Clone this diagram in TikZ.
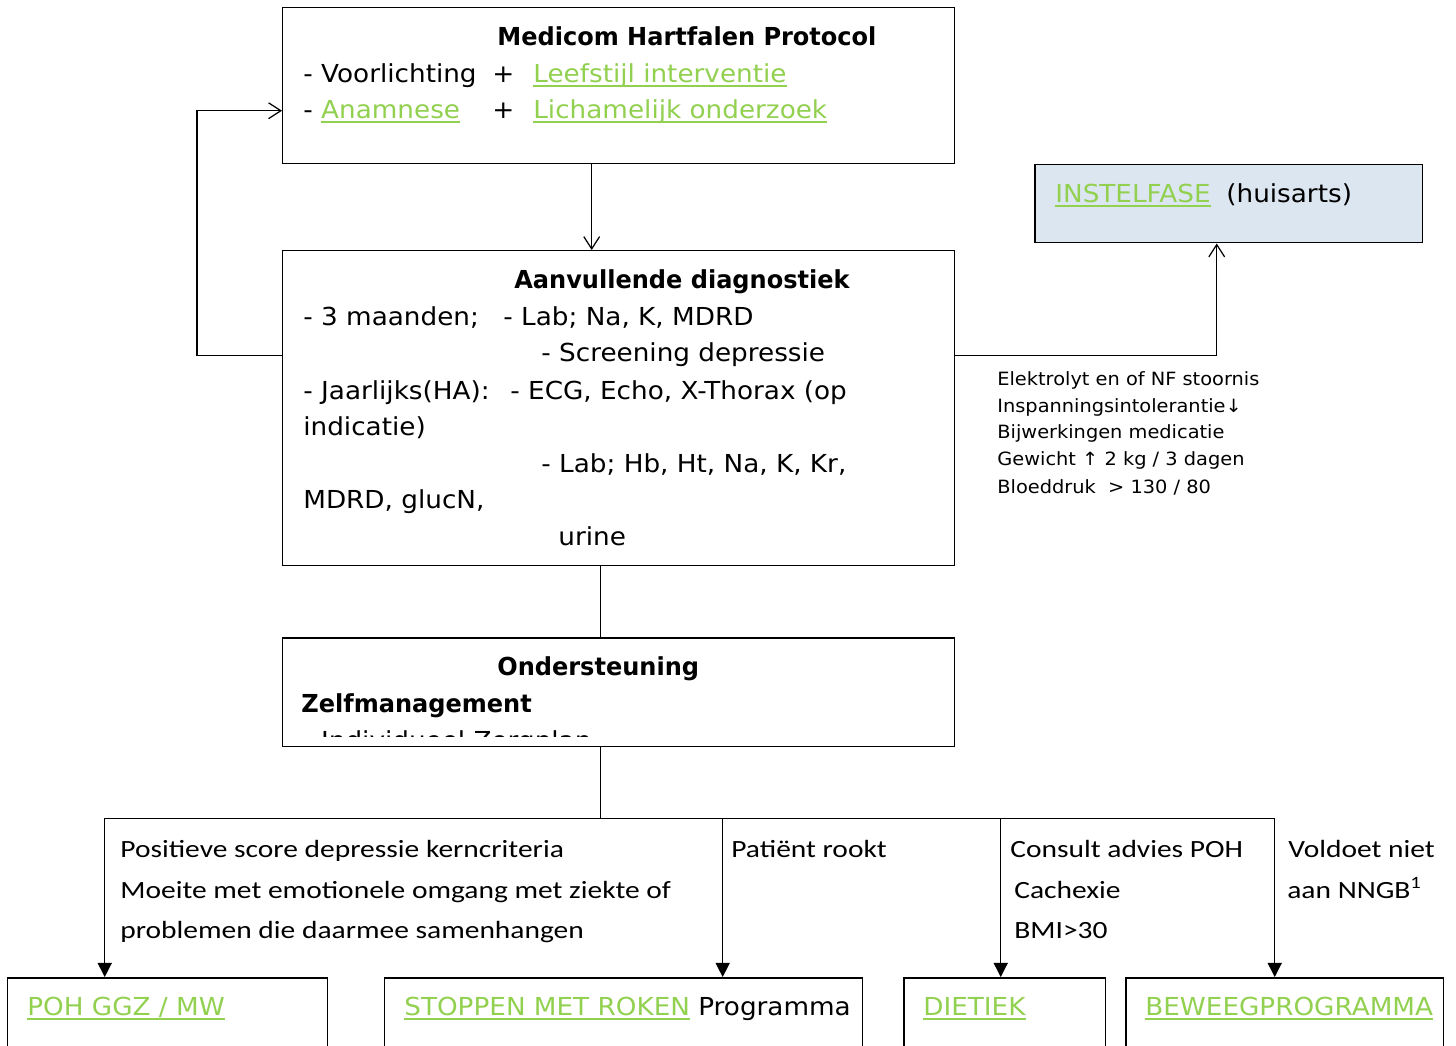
\documentclass[tikz,border=0pt]{standalone}
\usepackage{fontspec}
\setmainfont{DejaVu Sans}[FakeStretch=1.06, BoldFeatures={FakeStretch=0.97}]
\newfontfamily\calib{Carlito}[FakeStretch=1.19]
\usetikzlibrary{arrows.meta}

\definecolor{linkgreen}{RGB}{146,208,80}
\definecolor{faseblue}{RGB}{220,230,241}

% green underlined link text
\newcommand{\lnk}[1]{\textcolor{linkgreen}{\setbox0\hbox{#1}\rlap{\rule[-0.22em]{\wd0}{0.08em}}\box0}}

\tikzset{
  box/.style={draw, line width=0.85pt, anchor=north west, inner sep=0pt},
  txt/.style={anchor=base west, inner sep=0pt, font=\fontsize{14.1}{17}\selectfont},
  smalltxt/.style={anchor=base west, inner sep=0pt, font=\fontsize{10.4}{12}\selectfont},
  crit/.style={anchor=base west, inner sep=0pt, font=\calib\fontsize{14.1}{17}\selectfont},
  link/.style={line width=0.7pt},
  openarrow/.style={link, -{Straight Barb[length=7pt,width=9pt]}},
  fillarrow/.style={link, -{Triangle[length=8pt,width=8pt]}}
}

\begin{document}
\begin{tikzpicture}[x=0.02cm, y=-0.02cm]
  \useasboundingbox (0,0) rectangle (1456,1045);
  \clip (0,0) rectangle (1456,1045);

  % --- Boxes
  \node[box, minimum width=13.44cm, minimum height=3.12cm] (protocol) at (282,7) {};
  \node[box, minimum width=13.44cm, minimum height=6.3cm] (diag) at (282,250) {};
  \node[box, fill=faseblue, minimum width=7.76cm, minimum height=1.56cm] (fase) at (1034,164) {};
  \node[box, minimum width=13.44cm, minimum height=2.18cm] (support) at (282,637) {};
  \node[box, minimum width=6.4cm, minimum height=3cm] (ggz) at (7,977) {};
  \node[box, minimum width=9.56cm, minimum height=3cm] (smr) at (384,977) {};
  \node[box, minimum width=4.04cm, minimum height=3cm] (dietiek) at (903,977) {};
  \node[box, minimum width=6.36cm, minimum height=3cm] (beweeg) at (1125,977) {};

  % --- Protocol text
  \node[txt, font=\fontsize{14.1}{17}\selectfont\bfseries] (protTitle) at (497,45) {Medicom Hartfalen Protocol};
  \node[txt] (protA) at (303,82) {- Voorlichting};
  \node[txt] (protPlusA) at (492,82) {+};
  \node[txt] (protB) at (533,82) {\lnk{Leefstijl interventie}};
  \node[txt] (protC) at (303,118) {- \lnk{Anamnese}};
  \node[txt] (protPlusB) at (492,118) {+};
  \node[txt] (protD) at (533,118) {\lnk{Lichamelijk onderzoek}};

  % --- Diagnostiek text
  \node[txt, font=\fontsize{14.1}{17}\selectfont\bfseries] (diagTitle) at (514,288) {Aanvullende diagnostiek};
  \node[txt] (diagA) at (303,325) {- 3 maanden;};
  \node[txt] (diagB) at (503,325) {- Lab; Na, K, MDRD};
  \node[txt] (diagC) at (541,361) {- Screening depressie};
  \node[txt] (diagD) at (303,399) {- Jaarlijks(HA):};
  \node[txt] (diagE) at (510,399) {- ECG, Echo, X-Thorax (op};
  \node[txt] (diagF) at (303,435) {indicatie)};
  \node[txt] (diagG) at (541,472) {- Lab; Hb, Ht, Na, K, Kr,};
  \node[txt] (diagH) at (303,508) {MDRD, glucN,};
  \node[txt] (diagI) at (558,545) {urine};

  % --- Instelfase text and criteria
  \node[txt] (faseA) at (1055,202) {\lnk{INSTELFASE}};
  \node[txt] (faseB) at (1226,202) {(huisarts)};
  \node[smalltxt] (stoorA) at (997,385) {Elektrolyt en of NF stoornis};
  \node[smalltxt] (stoorB) at (997,412) {Inspanningsintolerantie↓};
  \node[smalltxt] (stoorC) at (997,438) {Bijwerkingen medicatie};
  \node[smalltxt] (stoorD) at (997,465) {Gewicht ↑ 2 kg / 3 dagen};
  \node[smalltxt] (stoorE) at (997,493) {Bloeddruk \ > 130 / 80};

  % --- Ondersteuning text (last line cut off by the box)
  \node[txt, font=\fontsize{14.1}{17}\selectfont\bfseries] (supTitle) at (497,675) {Ondersteuning};
  \node[txt, font=\fontsize{14.1}{17}\selectfont\bfseries] (supA) at (301,712) {Zelfmanagement};
  \begin{scope}
    \clip (support.north west) rectangle ([yshift=0.22cm]support.south east);
    \node[txt] (supB) at (303,749) {- Individueel Zorgplan};
  \end{scope}

  % --- Conditions above the bottom boxes
  \node[crit] (condA) at (120,857) {Positieve score depressie kerncriteria};
  \node[crit] (condB) at (120,898) {Moeite met emotionele omgang met ziekte of};
  \node[crit] (condC) at (120,938) {problemen die daarmee samenhangen};
  \node[crit] (condD) at (731,857) {Patiënt rookt};
  \node[crit] (condE) at (1010,857) {Consult advies POH};
  \node[crit] (condF) at (1014,898) {Cachexie};
  \node[crit] (condG) at (1014,938) {BMI>30};
  \node[crit] (condH) at (1288,857) {Voldoet niet};
  \node[crit] (condI) at (1287,898) {aan NNGB\textsuperscript{1}};

  % --- Bottom box text
  \node[txt] (ggzT) at (27,1015) {\lnk{POH GGZ / MW}};
  \node[txt] (smrT) at (404,1015) {\lnk{STOPPEN MET ROKEN} Programma};
  \node[txt] (dietT) at (923,1015) {\lnk{DIETIEK}};
  \node[txt] (beweegT) at (1145,1015) {\lnk{BEWEEGPROGRAMMA}};

  % --- Connectors
  \draw[openarrow] ([xshift=-0.54cm]protocol.south) -- ([xshift=-0.54cm]diag.north);
  \draw[openarrow] ([yshift=1.05cm]diag.west) -- ++(-85,0) |- ([yshift=-0.5cm]protocol.west);
  \draw[openarrow] ([yshift=1.05cm]diag.east) -| ([xshift=-0.24cm]fase.south);
  \draw[link] ([xshift=-0.36cm]diag.south) -- ([xshift=-0.36cm]support.north);
  \draw[link] ([xshift=-0.36cm]support.south) -- ++(0,71) coordinate (branch);

  \coordinate (ggzin) at ([xshift=-1.26cm]ggz.north);
  \coordinate (smrin) at ([xshift=1.98cm]smr.north);
  \coordinate (dietin) at ([xshift=-0.08cm]dietiek.north);
  \coordinate (beweegin) at ([xshift=-0.2cm]beweeg.north);

  \draw[link] (ggzin |- branch) -- (beweegin |- branch);
  \foreach \b in {ggzin, smrin, dietin, beweegin}
    \draw[fillarrow] (\b |- branch) -- (\b);
\end{tikzpicture}
\end{document}
